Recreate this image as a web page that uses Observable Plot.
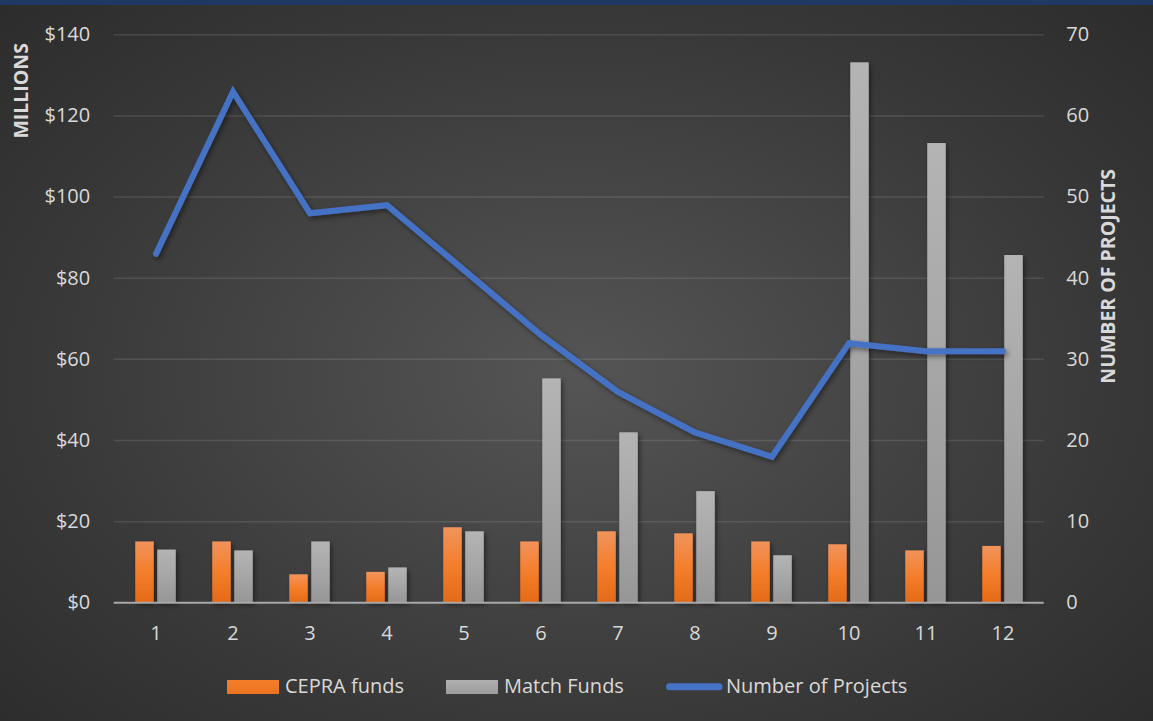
<!DOCTYPE html>
<html>
<head>
<meta charset="utf-8">
<script src="https://cdn.jsdelivr.net/npm/d3@7"></script>
<script src="https://cdn.jsdelivr.net/npm/@observablehq/plot@0.6"></script>
<style>
  html, body { margin: 0; padding: 0; background: #2a2a2a; overflow: hidden; }
  #wrap {
    position: relative; width: 1153px; height: 721px;
    background:
      linear-gradient(#1f3864, #1f3864) top left / 100% 5px no-repeat,
      radial-gradient(ellipse 75% 80% at 50% 52%, #555555 0%, #474747 30%, #383838 62%, #292929 100%);
    font-family: "Open Sans", sans-serif;
  }
  #wrap svg { display: block; }
</style>
</head>
<body>
<div id="wrap"></div>
<script>
// ---- data ----
const categories = ["1","2","3","4","5","6","7","8","9","10","11","12"];
const cepraFunds = [15.0, 15.0, 6.9, 7.5, 18.5, 15.0, 17.5, 17.0, 15.0, 14.3, 12.8, 13.9];
const matchFunds = [13.0, 12.8, 15.0, 8.6, 17.5, 55.2, 41.9, 27.4, 11.6, 133.1, 113.2, 85.6];
const numProjects = [43, 63, 48, 49, 41, 33, 26, 21, 18, 32, 31, 31];
const leftTicks = [0, 20, 40, 60, 80, 100, 120, 140];
const rightTicks = [0, 10, 20, 30, 40, 50, 60, 70];
const seriesNames = ["CEPRA funds", "Match Funds", "Number of Projects"];
const leftTitle = "MILLIONS";
const rightTitle = "NUMBER OF PROJECTS";

const rows = categories.map((c, i) => ({cat: c, cepra: cepraFunds[i], match: matchFunds[i], projects: numProjects[i]}));
const ratio = 140 / 70; // right axis maps onto left axis domain

const textColor = "#d9d9d9";

const chart = Plot.plot({
  width: 1153,
  height: 660,
  marginLeft: 113.75,
  marginRight: 109.25,
  marginTop: 34.3,
  marginBottom: 57.7,
  style: {background: "transparent", color: textColor, fontFamily: "'Open Sans', sans-serif", fontSize: "20px", overflow: "visible"},
  x: {type: "band", domain: categories, padding: 0},
  y: {domain: [0, 140]},
  marks: [
    Plot.ruleY(leftTicks.filter(d => d > 0), {stroke: "#ffffff", strokeOpacity: 0.11, strokeWidth: 1.5}),
    Plot.barY(rows, {x: "cat", y: "cepra", fill: "url(#gOrange)", insetLeft: 18.25, insetRight: 40.25}),
    Plot.barY(rows, {x: "cat", y: "match", fill: "url(#gGray)", insetLeft: 40.25, insetRight: 18.25}),
    Plot.ruleY([0], {stroke: "#a9a9a9", strokeWidth: 2}),
    Plot.line(rows, {x: "cat", y: d => d.projects * ratio, stroke: "#4472c4", strokeWidth: 6, strokeLinecap: "round", strokeLinejoin: "miter", strokeMiterlimit: 3}),
    Plot.axisX({tickSize: 0, tickPadding: 23, fontSize: 20, label: null}),
    Plot.axisY({anchor: "left", ticks: leftTicks, tickFormat: d => "$" + d, tickSize: 0, tickPadding: 24, fontSize: 20, label: null}),
    Plot.axisY({anchor: "right", ticks: rightTicks.map(d => d * ratio), tickFormat: d => String(d / ratio), tickSize: 0, tickPadding: 22, fontSize: 20, label: null}),
    Plot.text([leftTitle], {frameAnchor: "top-left", text: d => d, dx: -92.75, dy: 56, rotate: -90, textAnchor: "middle", lineAnchor: "middle", fontWeight: "bold", fontSize: 19.5, fill: textColor}),
    Plot.text([rightTitle], {frameAnchor: "top-right", text: d => d, dx: 64.25, dy: 241.5, rotate: -90, textAnchor: "middle", lineAnchor: "middle", fontWeight: "bold", fontSize: 19.5, fill: textColor})
  ]
});

const svg = d3.select(chart);
const defs = svg.insert("defs", ":first-child");
function grad(sel, id, stops) {
  const g = sel.append("linearGradient").attr("id", id).attr("x1", 0).attr("y1", 0).attr("x2", 0).attr("y2", 1);
  stops.forEach(([o, c]) => g.append("stop").attr("offset", o).attr("stop-color", c));
}
grad(defs, "gOrange", [[0, "#f1935c"], [0.5, "#f47e2b"], [1, "#e46a17"]]);
grad(defs, "gGray", [[0, "#b4b4b4"], [0.5, "#a6a6a6"], [1, "#969696"]]);
const f = defs.append("filter").attr("id", "shadow").attr("x", "-5%").attr("y", "-5%").attr("width", "115%").attr("height", "115%");
f.append("feDropShadow").attr("dx", 2).attr("dy", 2.5).attr("stdDeviation", 2.5).attr("flood-color", "#000").attr("flood-opacity", 0.45);
svg.selectAll('g[aria-label="bar"], g[aria-label="line"]').attr("filter", "url(#shadow)");

const wrap = document.getElementById("wrap");
wrap.appendChild(chart);

// ---- legend (below the chart) ----
const lg = d3.select(wrap).append("svg").attr("width", 1153).attr("height", 61)
  .style("font-family", "'Open Sans', sans-serif").style("font-size", "20px");
const ldefs = lg.append("defs");
grad(ldefs, "lgOrange", [[0, "#f47e2b"], [1, "#ec7420"]]);
grad(ldefs, "lgGray", [[0, "#b0b0b0"], [1, "#9c9c9c"]]);
lg.append("rect").attr("x", 227).attr("y", 20).attr("width", 52).attr("height", 14).attr("fill", "url(#lgOrange)");
lg.append("text").attr("x", 285).attr("y", 33.3).attr("fill", textColor).text(seriesNames[0]);
lg.append("rect").attr("x", 446).attr("y", 20).attr("width", 52).attr("height", 14).attr("fill", "url(#lgGray)");
lg.append("text").attr("x", 504).attr("y", 33.3).attr("fill", textColor).text(seriesNames[1]);
lg.append("line").attr("x1", 669.5).attr("x2", 719).attr("y1", 26.8).attr("y2", 26.8)
  .attr("stroke", "#4472c4").attr("stroke-width", 7).attr("stroke-linecap", "round");
lg.append("text").attr("x", 726).attr("y", 33.3).attr("fill", textColor).text(seriesNames[2]);
</script>
</body>
</html>
